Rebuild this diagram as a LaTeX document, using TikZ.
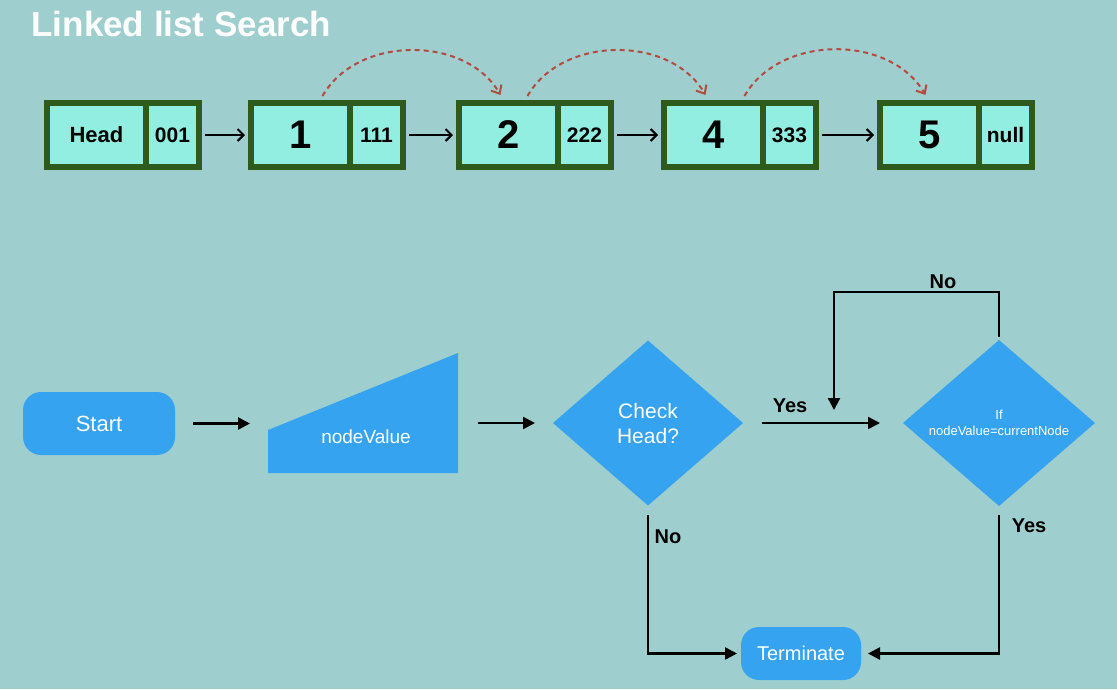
\documentclass[tikz,border=0pt]{standalone}
\usepackage{fontspec}
\setmainfont{Liberation Sans}
\usetikzlibrary{positioning,shapes.geometric,arrows.meta}

\definecolor{bgteal}{RGB}{159,206,206}
\definecolor{cellfill}{RGB}{146,238,224}
\definecolor{cellline}{RGB}{46,90,28}
\definecolor{flowblue}{RGB}{53,163,240}
\definecolor{hopred}{RGB}{178,76,64}

\tikzset{
  cell/.style={rectangle,draw=cellline,fill=cellfill,line width=6pt,outer sep=0pt,
    inner sep=0pt,minimum height=64pt,text=black},
  valcell/.style={cell,minimum width=99pt,font=\bfseries\fontsize{40}{40}\selectfont},
  ptrcell/.style={cell,minimum width=53pt,font=\bfseries\fontsize{21}{21}\selectfont},
  link/.style={line width=2pt,-{Straight Barb[length=6pt,width=12pt]},shorten <=6pt,shorten >=6pt},
  hop/.style={hopred,line width=2pt,dash pattern=on 5pt off 4pt,-{Straight Barb[length=7pt,width=12pt]}},
  flowbox/.style={rectangle,rounded corners=18pt,fill=flowblue,text=white,outer sep=0pt,
    inner sep=0pt,font=\fontsize{21}{21}\selectfont},
  decision/.style={diamond,fill=flowblue,text=white,outer sep=0pt,inner sep=0pt,
    minimum width=190pt,minimum height=165pt,align=center},
  flow/.style={line width=2.4pt,-{Triangle[length=12pt,width=12pt]}},
  lbl/.style={font=\bfseries\fontsize{20}{20}\selectfont,text=black}
}

\begin{document}
\begin{tikzpicture}[x=1pt,y=-1pt]
\fill[bgteal] (0,0) rectangle (1117,689);
\useasboundingbox (0,0) rectangle (1117,689);

\node[anchor=base west,text=white,font=\bfseries\fontsize{35}{35}\selectfont] (title) at (28,36) {Linked list Search};

% linked list
\node[valcell,font=\bfseries\fontsize{22}{22}\selectfont] (vh) at (96.5,135) {Head};
\node[ptrcell,right=0pt of vh] (ph) {001};
\node[valcell] (v1) at (300.5,135) {1};
\node[ptrcell,right=0pt of v1] (p1) {111};
\node[valcell] (v2) at (508.5,135) {2};
\node[ptrcell,right=0pt of v2] (p2) {222};
\node[valcell] (v4) at (713.5,135) {4};
\node[ptrcell,right=0pt of v4] (p4) {333};
\node[valcell] (v5) at (929.5,135) {5};
\node[ptrcell,right=0pt of v5] (p5) {null};

\draw[link] (ph) -- (v1);
\draw[link] (p1) -- (v2);
\draw[link] (p2) -- (v4);
\draw[link] (p4) -- (v5);

\draw[hop] ([xshift=22pt,yshift=7pt]v1.north) to[bend left=60] ([xshift=-8pt,yshift=8pt]v2.north);
\draw[hop] ([xshift=19pt,yshift=7pt]v2.north) to[bend left=60] ([xshift=-8pt,yshift=8pt]v4.north);
\draw[hop] ([xshift=31pt,yshift=7pt]v4.north) to[bend left=60] ([xshift=-4pt,yshift=8pt]v5.north);

% flowchart
\node[flowbox,minimum width=152pt,minimum height=63pt,font=\fontsize{22}{22}\selectfont] (start) at (99,423.5) {Start};
\node[rectangle,minimum width=190pt,minimum height=120pt,outer sep=0pt] (inp) at (363,413) {};
\fill[flowblue] (inp.south west) -- (inp.south east) -- (inp.north east) -- ([yshift=-77pt]inp.north west) -- cycle;
\node[text=white,font=\fontsize{19}{19}\selectfont] (inptxt) at (366,437) {nodeValue};
\node[decision,font=\fontsize{21}{25}\selectfont] (chk) at (648,423) {Check\\Head?};
\node[decision,minimum width=192pt,minimum height=166pt,font=\fontsize{13}{16}\selectfont] (ifn) at (999,423) {If\\nodeValue=currentNode};
\node[flowbox,minimum width=120pt,minimum height=53pt,font=\fontsize{20}{20}\selectfont] (term) at (801,653.5) {Terminate};

\coordinate (back) at (834,410);

\draw[flow,shorten <=18pt,shorten >=18pt] (start.east) -- (start.east -| inp.west);
\draw[flow,shorten <=20pt,shorten >=18pt] (inp.east |- chk.west) -- (chk.west);
\draw[flow,shorten <=19pt,shorten >=23pt] (chk.east) -- (ifn.west);
\draw[flow,shorten <=3pt] (ifn.north) -- ++(0,-48) -| (back);
\draw[flow,shorten >=4pt] ([yshift=-9pt]chk.south) |- (term.west);
\draw[flow,shorten >=7pt] ([yshift=-9pt]ifn.south) |- (term.east);

\node[lbl] (yes1) at (790,406) {Yes};
\node[lbl] (no1) at (943,282) {No};
\node[lbl] (no2) at (668,537) {No};
\node[lbl] (yes2) at (1029,526) {Yes};
\end{tikzpicture}
\end{document}
